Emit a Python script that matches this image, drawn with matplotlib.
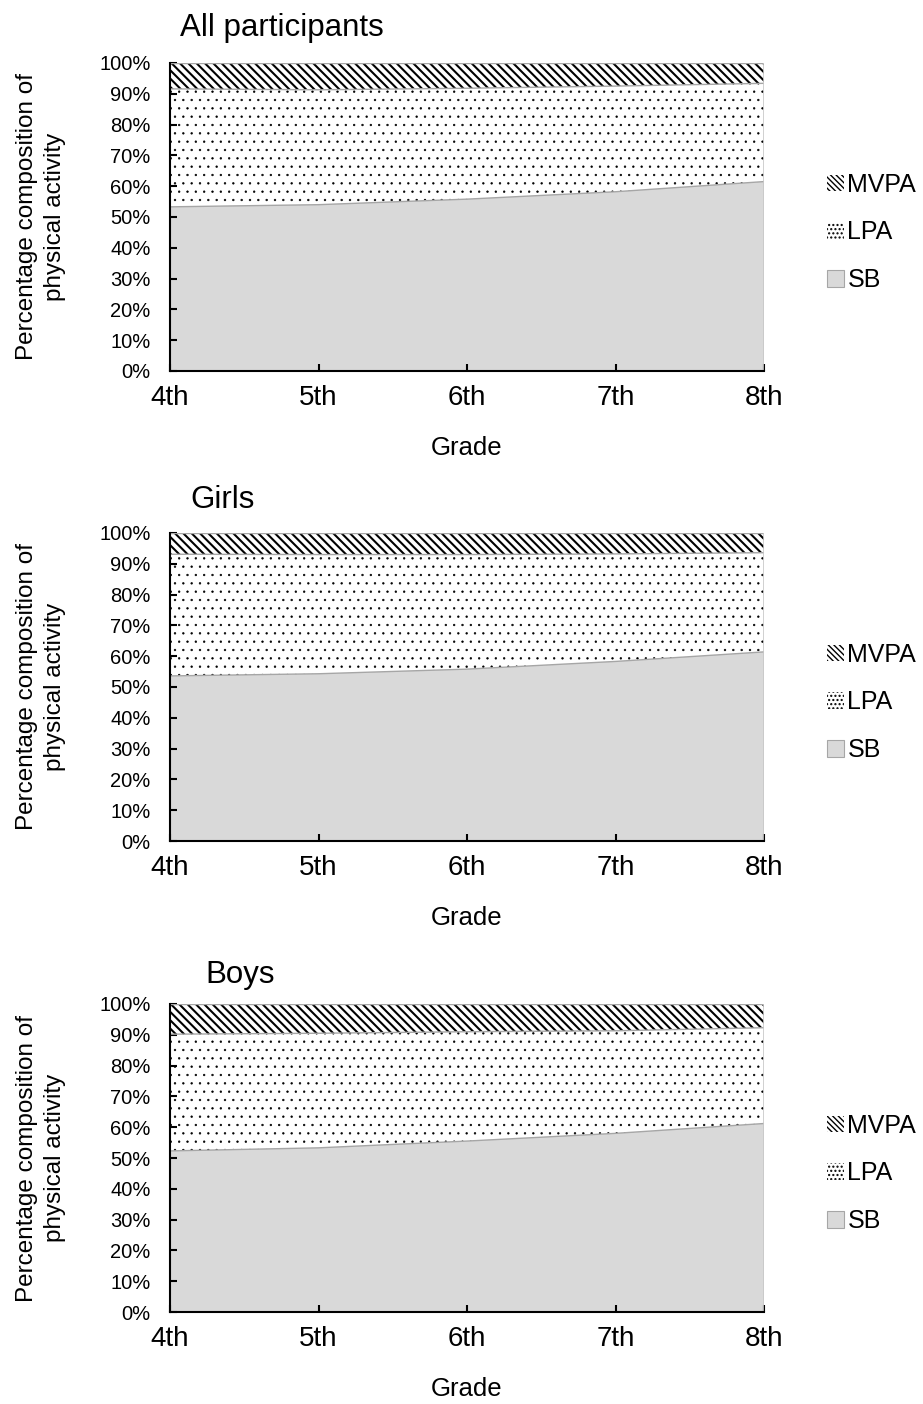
# -*- coding: utf-8 -*-
"""
Percentage composition of physical activity by grade (stacked areas)
"""
#%% import
import numpy as np
import matplotlib
matplotlib.use('Agg')
import matplotlib.pyplot as plt
from matplotlib.patches import Patch

plt.rcParams['font.family'] = ['Liberation Sans', 'DejaVu Sans']

#%% data (percent)
grades = ['4th', '5th', '6th', '7th', '8th']
activities = ['SB', 'LPA', 'MVPA']

all_sb = [53.3, 54.0, 55.8, 58.2, 61.5]
all_lpa = [38.3, 37.3, 36.0, 34.3, 31.9]
all_mvpa = [8.4, 8.7, 8.2, 7.5, 6.6]

girls_sb = [53.6, 54.3, 55.8, 58.3, 61.4]
girls_lpa = [39.5, 38.7, 37.2, 34.9, 32.2]
girls_mvpa = [6.9, 7.0, 7.0, 6.8, 6.4]

boys_sb = [52.3, 53.3, 55.5, 58.0, 61.2]
boys_lpa = [37.9, 37.2, 35.5, 33.3, 31.1]
boys_mvpa = [9.8, 9.5, 9.0, 8.7, 7.7]

titles = ['All participants', 'Girls', 'Boys']
panels = [(all_sb, all_lpa, all_mvpa),
          (girls_sb, girls_lpa, girls_mvpa),
          (boys_sb, boys_lpa, boys_mvpa)]

#%% styles
sb_color = '#d9d9d9'
edge_gray = '#a6a6a6'
dot_hatch, dot_lw = '..', 0.45
stripe_hatch, stripe_lw = '\\\\\\\\', 1.5


def hatched(artist, lw):
    # per artist hatch width if available
    if hasattr(artist, 'set_hatch_linewidth'):
        artist.set_hatch_linewidth(lw)
    return artist


#%% layout (pixels)
W, H = 923, 1404
fig = plt.figure(figsize=(W/100, H/100), dpi=100)

ax_left, ax_right = 170, 764
ax_tops = [63, 533, 1004]
ax_h = 308
title_pos = [(180, 28), (190, 500), (205, 975)]

x = np.arange(len(grades))

for i, (sb, lpa, mvpa) in enumerate(panels):
    top = ax_tops[i]
    ax = fig.add_axes([ax_left/W, 1 - (top + ax_h)/H, (ax_right - ax_left)/W, ax_h/H])

    sb = np.array(sb)
    lpa_top = sb + np.array(lpa)
    mvpa_top = lpa_top + np.array(mvpa)

    # SB
    ax.fill_between(x, 0, sb, facecolor=sb_color, edgecolor='none', lw=0)
    # LPA dots
    with plt.rc_context({'hatch.linewidth': dot_lw}):
        hatched(ax.fill_between(x, sb, lpa_top, facecolor='white', edgecolor='black',
                                hatch=dot_hatch, lw=0), dot_lw)
    # MVPA stripes
    with plt.rc_context({'hatch.linewidth': stripe_lw}):
        hatched(ax.fill_between(x, lpa_top, mvpa_top, facecolor='white', edgecolor='black',
                                hatch=stripe_hatch, lw=0), stripe_lw)

    # boundaries
    ax.plot(x, sb, color=edge_gray, lw=1)
    ax.plot(x, lpa_top, color=edge_gray, lw=1)
    ax.plot(x, mvpa_top, color=edge_gray, lw=1)
    ax.plot([x[-1], x[-1]], [0, 100], color='#c8c8c8', lw=1.2)

    ax.set_xlim(0, len(grades) - 1)
    ax.set_ylim(0, 100)
    ax.set_yticks(np.arange(0, 101, 10))
    ax.set_yticklabels([f'{v}%' for v in range(0, 101, 10)], fontsize=14.5)
    ax.set_xticks(x)
    ax.set_xticklabels(grades, fontsize=20)

    for s in ['top', 'right']:
        ax.spines[s].set_visible(False)
    for s in ['left', 'bottom']:
        ax.spines[s].set_linewidth(1.5)
        ax.spines[s].set_color('black')
    ax.tick_params(axis='y', direction='in', length=5, width=1.5, pad=14)
    ax.tick_params(axis='x', direction='in', length=5, width=1.5, pad=10)

    ax.set_xlabel('Grade', fontsize=18.5, labelpad=18)

    fig.text(41/W, 1 - (top + ax_h/2)/H,
             'Percentage composition of\nphysical activity',
             rotation=90, ha='center', va='center', fontsize=17.5,
             linespacing=1.3)

    fig.text(title_pos[i][0]/W, 1 - title_pos[i][1]/H, titles[i],
             ha='left', va='center', fontsize=22.5)

    with plt.rc_context({'hatch.linewidth': 1.0}):
        handles = [Patch(facecolor='white', edgecolor='black', hatch='\\\\\\\\\\\\', lw=0, label='MVPA'),
                   Patch(facecolor='white', edgecolor='black', hatch='....', lw=0, label='LPA'),
                   Patch(facecolor=sb_color, edgecolor=edge_gray, lw=0.8, label='SB')]
        ax.legend(handles=handles, loc='center left', bbox_to_anchor=(1.09, 0.45),
                  frameon=False, fontsize=18, handlelength=0.65, handleheight=0.65,
                  handletextpad=0.15, labelspacing=0.95, borderaxespad=0)

#%% save
fig.savefig('out.png', dpi=100)
